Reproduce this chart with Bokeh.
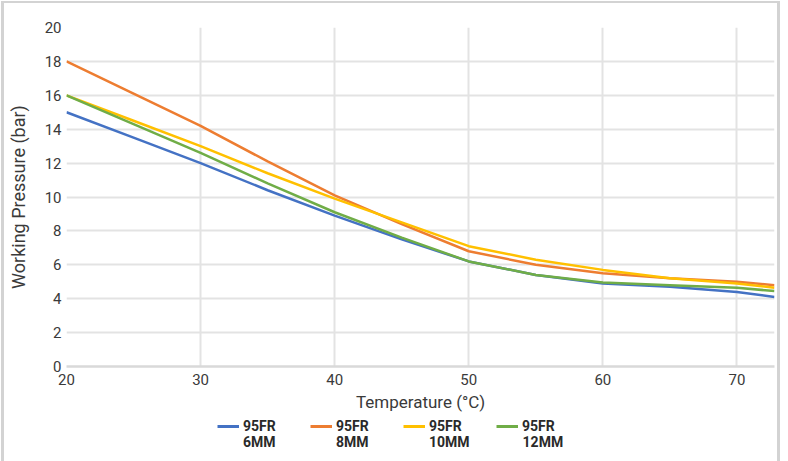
from bokeh.plotting import figure
from bokeh.models import Legend, LegendItem, Range1d, FixedTicker
from bokeh.layouts import column
from bokeh.embed import file_html
from bokeh.resources import INLINE

# Data
temperature = [20, 25, 30, 35, 40, 45, 50, 55, 60, 65, 70, 72.8]
p_6mm = [15.0, 13.5, 12.0, 10.4, 8.9, 7.5, 6.2, 5.4, 4.9, 4.7, 4.4, 4.1]
p_8mm = [18.0, 16.1, 14.2, 12.1, 10.1, 8.4, 6.8, 6.0, 5.5, 5.2, 5.0, 4.8]
p_10mm = [16.0, 14.5, 13.0, 11.4, 9.9, 8.5, 7.1, 6.3, 5.7, 5.2, 4.9, 4.65]
p_12mm = [16.0, 14.3, 12.6, 10.8, 9.1, 7.6, 6.2, 5.4, 4.95, 4.8, 4.65, 4.45]
series_values = [p_6mm, p_8mm, p_10mm, p_12mm]
series_line1 = ["95FR", "95FR", "95FR", "95FR"]
series_line2 = ["6MM", "8MM", "10MM", "12MM"]
series_colors = ["#4472C4", "#ED7D31", "#FFC000", "#70AD47"]
x_ticks = [20, 30, 40, 50, 60, 70]
y_ticks = [0, 2, 4, 6, 8, 10, 12, 14, 16, 18, 20]

FONT = "Roboto"
TXT = "#3a3a3a"
W = 781

p = figure(width=W, height=414,
           x_range=Range1d(20, 72.8), y_range=Range1d(0, 20),
           output_backend="svg", toolbar_location=None,
           min_border_left=66, min_border_right=7,
           min_border_top=27, min_border_bottom=48)
p.outline_line_color = None
p.background_fill_color = "white"
p.border_fill_alpha = 0

for ys, col in zip(series_values, series_colors):
    p.line(temperature, ys, line_width=2.5, line_color=col)

# Axes
p.xaxis.ticker = FixedTicker(ticks=x_ticks)
p.yaxis.ticker = FixedTicker(ticks=y_ticks)
p.xaxis.axis_label = "Temperature (°C)"
p.yaxis.axis_label = "Working Pressure (bar)"
for ax in (p.xaxis, p.yaxis):
    ax.major_tick_line_color = None
    ax.minor_tick_line_color = None
    ax.major_tick_out = 0
    ax.major_tick_in = 0
    ax.minor_tick_out = 0
    ax.minor_tick_in = 0
    ax.major_label_text_font = FONT
    ax.major_label_text_font_size = "15px"
    ax.major_label_text_color = TXT
    ax.axis_label_text_font = FONT
    ax.axis_label_text_font_style = "normal"
    ax.axis_label_text_color = TXT
p.xaxis.axis_label_text_font_size = "17px"
p.yaxis.axis_label_text_font_size = "18px"
p.xaxis.major_label_standoff = 7
p.yaxis.major_label_standoff = 5
p.yaxis.axis_line_color = None
p.xaxis.axis_line_color = "#d9d9d9"
p.xaxis.axis_line_width = 2.5
p.xaxis.axis_label_standoff = 4
p.yaxis.axis_label_standoff = 13

p.xgrid.grid_line_color = "#e3e3e3"
p.ygrid.grid_line_color = "#e3e3e3"
p.xgrid.grid_line_width = 2
p.ygrid.grid_line_width = 2

# Legend strip below the chart (two text rows per entry)
lg = figure(width=W, height=47, x_range=Range1d(0, 1), y_range=Range1d(0, 1),
            output_backend="svg", toolbar_location=None,
            x_axis_location=None, y_axis_location=None,
            min_border=0, min_border_left=0, min_border_right=0,
            min_border_top=0, min_border_bottom=0)
lg.outline_line_color = None
lg.background_fill_alpha = 0
lg.border_fill_alpha = 0
lg.xgrid.visible = False
lg.ygrid.visible = False

row1, row2 = [], []
for ys, col in zip(series_values, series_colors):
    # same series, outside this strip's ranges: only the legend swatch shows
    row1.append(lg.line(temperature, ys, line_width=3, line_color=col))
    row2.append(lg.line(temperature, ys, line_alpha=0))

common = dict(orientation="horizontal", border_line_color=None,
              background_fill_alpha=0, padding=0, margin=0, spacing=27,
              glyph_width=22, glyph_height=16, label_height=16, label_width=40,
              label_standoff=4, label_text_font=FONT, label_text_font_size="14px",
              label_text_font_style="bold", label_text_color="#2a2a2a")
leg1 = Legend(items=[LegendItem(label=t, renderers=[r]) for t, r in zip(series_line1, row1)],
              location=(151, 27), **common)
leg2 = Legend(items=[LegendItem(label=t, renderers=[r]) for t, r in zip(series_line2, row2)],
              location=(151, 11), **common)
lg.add_layout(leg1)
lg.add_layout(leg2)

layout = column(p, lg, spacing=0,
                styles={"box-shadow": ("inset 1px 1px 0 0 #ffffff, inset -1px 0 0 0 #ffffff, "
                                       "inset 4px 3px 0 0 #d3d3d3, inset -4px 0 0 0 #d3d3d3")})

open("out.html", "w").write(file_html(layout, INLINE))
